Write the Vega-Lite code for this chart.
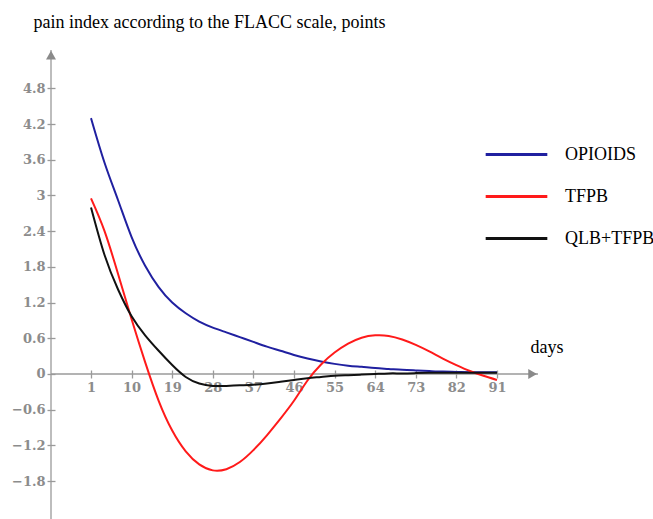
{
  "$schema": "https://vega.github.io/schema/vega-lite/v6.json",
  "autosize": {"type": "none"},
  "padding": {"left": 51, "top": 50, "right": 115, "bottom": 0},
  "width": 487,
  "height": 469,
  "background": "white",
  "config": {"view": {"stroke": null}, "axis": {"grid": false}},
  "layer": [
    {
      "data": {"values": [{}]},
      "mark": {"type": "rule", "color": "#9a9a9a", "strokeWidth": 1.3},
      "encoding": {"x": {"datum": -7.87, "type": "quantitative"}}
    },
    {
      "data": {"values": [{}]},
      "mark": {"type": "rule", "color": "#9a9a9a", "strokeWidth": 1.3},
      "encoding": {"y": {"datum": 0, "type": "quantitative"}}
    },
    {
      "data": {"values": [{}]},
      "mark": {"type": "point", "shape": "triangle-up", "filled": true, "color": "#8a8a8a", "size": 100, "opacity": 1},
      "encoding": {"x": {"datum": -7.87, "type": "quantitative"}, "y": {"datum": 5.36, "type": "quantitative"}}
    },
    {
      "data": {"values": [{}]},
      "mark": {"type": "point", "shape": "triangle-right", "filled": true, "color": "#8a8a8a", "size": 100, "opacity": 1},
      "encoding": {"x": {"datum": 98.9, "type": "quantitative"}, "y": {"datum": 0, "type": "quantitative"}}
    },
    {
      "data": {
        "values": [
          {"day": 1, "value": 4.3, "series": "OPIOIDS"},
          {"day": 4, "value": 3.55, "series": "OPIOIDS"},
          {"day": 7, "value": 2.92, "series": "OPIOIDS"},
          {"day": 10, "value": 2.3, "series": "OPIOIDS"},
          {"day": 13, "value": 1.82, "series": "OPIOIDS"},
          {"day": 16, "value": 1.46, "series": "OPIOIDS"},
          {"day": 19, "value": 1.2, "series": "OPIOIDS"},
          {"day": 22, "value": 1.02, "series": "OPIOIDS"},
          {"day": 25, "value": 0.88, "series": "OPIOIDS"},
          {"day": 28, "value": 0.78, "series": "OPIOIDS"},
          {"day": 31, "value": 0.7, "series": "OPIOIDS"},
          {"day": 34, "value": 0.62, "series": "OPIOIDS"},
          {"day": 37, "value": 0.54, "series": "OPIOIDS"},
          {"day": 40, "value": 0.46, "series": "OPIOIDS"},
          {"day": 43, "value": 0.39, "series": "OPIOIDS"},
          {"day": 46, "value": 0.32, "series": "OPIOIDS"},
          {"day": 49, "value": 0.26, "series": "OPIOIDS"},
          {"day": 52, "value": 0.21, "series": "OPIOIDS"},
          {"day": 55, "value": 0.17, "series": "OPIOIDS"},
          {"day": 58, "value": 0.14, "series": "OPIOIDS"},
          {"day": 61, "value": 0.12, "series": "OPIOIDS"},
          {"day": 64, "value": 0.1, "series": "OPIOIDS"},
          {"day": 67, "value": 0.085, "series": "OPIOIDS"},
          {"day": 70, "value": 0.07, "series": "OPIOIDS"},
          {"day": 73, "value": 0.06, "series": "OPIOIDS"},
          {"day": 76, "value": 0.05, "series": "OPIOIDS"},
          {"day": 79, "value": 0.04, "series": "OPIOIDS"},
          {"day": 82, "value": 0.035, "series": "OPIOIDS"},
          {"day": 85, "value": 0.03, "series": "OPIOIDS"},
          {"day": 88, "value": 0.03, "series": "OPIOIDS"},
          {"day": 91, "value": 0.03, "series": "OPIOIDS"},
          {"day": 1, "value": 2.95, "series": "TFPB"},
          {"day": 4, "value": 2.4, "series": "TFPB"},
          {"day": 7, "value": 1.68, "series": "TFPB"},
          {"day": 10, "value": 0.92, "series": "TFPB"},
          {"day": 13, "value": 0.2, "series": "TFPB"},
          {"day": 16, "value": -0.45, "series": "TFPB"},
          {"day": 19, "value": -0.95, "series": "TFPB"},
          {"day": 22, "value": -1.3, "series": "TFPB"},
          {"day": 25, "value": -1.52, "series": "TFPB"},
          {"day": 28, "value": -1.62, "series": "TFPB"},
          {"day": 31, "value": -1.6, "series": "TFPB"},
          {"day": 34, "value": -1.48, "series": "TFPB"},
          {"day": 37, "value": -1.28, "series": "TFPB"},
          {"day": 40, "value": -1.03, "series": "TFPB"},
          {"day": 43, "value": -0.75, "series": "TFPB"},
          {"day": 46, "value": -0.45, "series": "TFPB"},
          {"day": 49, "value": -0.11, "series": "TFPB"},
          {"day": 52, "value": 0.16, "series": "TFPB"},
          {"day": 55, "value": 0.36, "series": "TFPB"},
          {"day": 58, "value": 0.51, "series": "TFPB"},
          {"day": 61, "value": 0.61, "series": "TFPB"},
          {"day": 64, "value": 0.65, "series": "TFPB"},
          {"day": 67, "value": 0.64, "series": "TFPB"},
          {"day": 70, "value": 0.58, "series": "TFPB"},
          {"day": 73, "value": 0.49, "series": "TFPB"},
          {"day": 76, "value": 0.38, "series": "TFPB"},
          {"day": 79, "value": 0.26, "series": "TFPB"},
          {"day": 82, "value": 0.15, "series": "TFPB"},
          {"day": 85, "value": 0.05, "series": "TFPB"},
          {"day": 88, "value": -0.03, "series": "TFPB"},
          {"day": 91, "value": -0.1, "series": "TFPB"},
          {"day": 1, "value": 2.8, "series": "QLB+TFPB"},
          {"day": 4, "value": 2.0, "series": "QLB+TFPB"},
          {"day": 7, "value": 1.42, "series": "QLB+TFPB"},
          {"day": 10, "value": 0.97, "series": "QLB+TFPB"},
          {"day": 13, "value": 0.65, "series": "QLB+TFPB"},
          {"day": 16, "value": 0.39, "series": "QLB+TFPB"},
          {"day": 19, "value": 0.15, "series": "QLB+TFPB"},
          {"day": 22, "value": -0.05, "series": "QLB+TFPB"},
          {"day": 25, "value": -0.16, "series": "QLB+TFPB"},
          {"day": 28, "value": -0.2, "series": "QLB+TFPB"},
          {"day": 31, "value": -0.2, "series": "QLB+TFPB"},
          {"day": 34, "value": -0.19, "series": "QLB+TFPB"},
          {"day": 37, "value": -0.18, "series": "QLB+TFPB"},
          {"day": 40, "value": -0.16, "series": "QLB+TFPB"},
          {"day": 43, "value": -0.13, "series": "QLB+TFPB"},
          {"day": 46, "value": -0.1, "series": "QLB+TFPB"},
          {"day": 49, "value": -0.07, "series": "QLB+TFPB"},
          {"day": 52, "value": -0.05, "series": "QLB+TFPB"},
          {"day": 55, "value": -0.03, "series": "QLB+TFPB"},
          {"day": 58, "value": -0.02, "series": "QLB+TFPB"},
          {"day": 61, "value": -0.01, "series": "QLB+TFPB"},
          {"day": 64, "value": 0, "series": "QLB+TFPB"},
          {"day": 67, "value": 0.01, "series": "QLB+TFPB"},
          {"day": 70, "value": 0.01, "series": "QLB+TFPB"},
          {"day": 73, "value": 0.015, "series": "QLB+TFPB"},
          {"day": 76, "value": 0.02, "series": "QLB+TFPB"},
          {"day": 79, "value": 0.02, "series": "QLB+TFPB"},
          {"day": 82, "value": 0.02, "series": "QLB+TFPB"},
          {"day": 85, "value": 0.02, "series": "QLB+TFPB"},
          {"day": 88, "value": 0.02, "series": "QLB+TFPB"},
          {"day": 91, "value": 0.02, "series": "QLB+TFPB"}
        ]
      },
      "mark": {"type": "line", "interpolate": "natural", "strokeWidth": 2},
      "encoding": {
        "x": {
          "field": "day",
          "type": "quantitative",
          "scale": {"domain": [-7.87, 100.1], "nice": false, "zero": false},
          "axis": {
            "values": [1, 10, 19, 28, 37, 46, 55, 64, 73, 82, 91],
            "offset": -149,
            "domain": false,
            "tickSize": 8,
            "tickColor": "#9a9a9a",
            "tickWidth": 1.3,
            "labelPadding": 3,
            "labelFont": "DejaVu Serif",
            "labelFontWeight": "bold",
            "labelFontSize": 13,
            "labelColor": "#8c8c8c",
            "title": "days",
            "titleFont": "Liberation Serif",
            "titleFontSize": 18,
            "titleFontWeight": "normal",
            "titleColor": "black",
            "titleAlign": "left",
            "titleBaseline": "alphabetic",
            "titleX": 479,
            "titleY": -18
          }
        },
        "y": {
          "field": "value",
          "type": "quantitative",
          "scale": {"domain": [-2.437, 5.445], "nice": false, "zero": false},
          "axis": {
            "values": [-1.8, -1.2, -0.6, 0, 0.6, 1.2, 1.8, 2.4, 3, 3.6, 4.2, 4.8],
            "format": ".2~f",
            "offset": -4,
            "domain": false,
            "tickSize": 8,
            "tickColor": "#9a9a9a",
            "tickWidth": 1.3,
            "labelPadding": 2,
            "labelFont": "DejaVu Serif",
            "labelFontWeight": "bold",
            "labelFontSize": 13,
            "labelColor": "#8c8c8c",
            "title": "pain index according to the FLACC scale, points",
            "titleFont": "Liberation Serif",
            "titleFontSize": 18,
            "titleFontWeight": "normal",
            "titleColor": "black",
            "titleAngle": 0,
            "titleAlign": "left",
            "titleBaseline": "alphabetic",
            "titleX": -22,
            "titleY": -23
          }
        },
        "color": {
          "field": "series",
          "type": "nominal",
          "sort": ["OPIOIDS", "TFPB", "QLB+TFPB"],
          "scale": {"domain": ["OPIOIDS", "TFPB", "QLB+TFPB"], "range": ["#2020a0", "#ff1a1a", "#111111"]},
          "legend": {
            "orient": "none",
            "legendX": 433,
            "legendY": 72,
            "title": null,
            "symbolType": "stroke",
            "symbolSize": 3800,
            "symbolStrokeWidth": 3,
            "labelFont": "Liberation Serif",
            "labelFontSize": 18,
            "labelColor": "black",
            "labelOffset": 16,
            "rowPadding": 0
          }
        }
      }
    }
  ]
}
